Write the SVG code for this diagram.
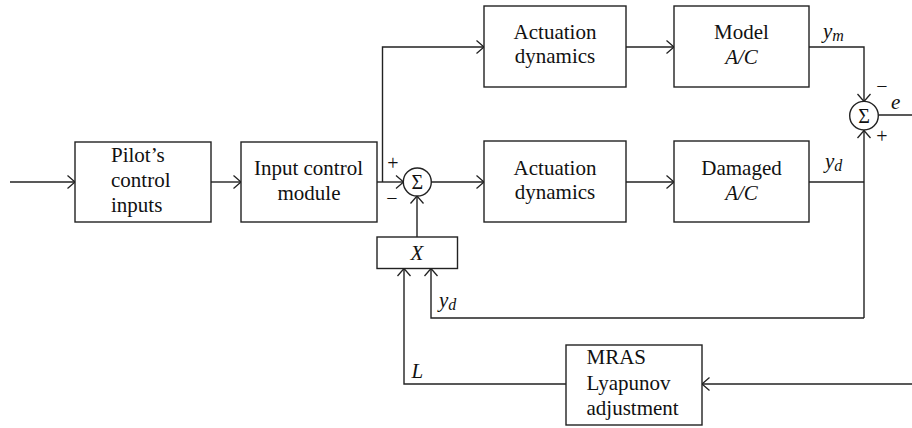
<svg xmlns="http://www.w3.org/2000/svg" width="912" height="428" viewBox="0 0 912 428">
<defs>
<marker id="arr" markerUnits="userSpaceOnUse" viewBox="0 0 10 16" refX="9" refY="8" markerWidth="10" markerHeight="16" orient="auto">
<path d="M1.5,1.5 L9,8 L1.5,14.5" fill="none" stroke="#222" stroke-width="1.3"/>
</marker>
<style>
.box{fill:#fff;stroke:#222;stroke-width:1.4}
.ln{fill:none;stroke:#222;stroke-width:1.4}
.ar{fill:none;stroke:#222;stroke-width:1.4;marker-end:url(#arr)}
text{font-size:21px;fill:#111}
.c{text-anchor:middle}
.i{font-style:italic}
.sub{font-size:16px;font-style:italic}
.sg{font-size:20px;text-anchor:middle}
.sign{font-size:20px;text-anchor:middle}
</style>
</defs>
<rect width="912" height="428" fill="#fff"/>
<g id="connectors">
<path class="ar" d="M10,182 H75"/>
<path class="ar" d="M211,182 H241"/>
<path class="ar" d="M377,182 H403.5"/>
<path class="ar" d="M382.5,182 V47 H484"/>
<path class="ar" d="M431,182 H484"/>
<path class="ar" d="M626,47 H674"/>
<path class="ar" d="M626,182 H674"/>
<path class="ar" d="M809,47 H864 V101.5"/>
<path class="ln" d="M809,182 H864"/>
<path class="ar" d="M864,318 V130.5"/>
<path class="ar" d="M864,318 H431 V268.5"/>
<path class="ln" d="M878.5,115 H912"/>
<path class="ar" d="M912,384 H702"/>
<path class="ar" d="M566,384 H404 V268.5"/>
<path class="ar" d="M417,237 V196"/>
</g>
<g font-family="'Liberation Serif', 'DejaVu Serif', serif">
<g id="pilot">
<rect class="box" x="75" y="142" width="136" height="80"/>
<text x="111" y="162">Pilot’s</text>
<text x="111" y="187">control</text>
<text x="111" y="212">inputs</text>
</g>
<g id="input-control">
<rect class="box" x="241" y="142" width="136" height="80"/>
<text class="c" x="308.5" y="175">Input control</text>
<text class="c" x="309" y="200">module</text>
</g>
<g id="sum1">
<circle class="box" cx="417.3" cy="182" r="14"/>
<text class="sg" x="417.3" y="189">Σ</text>
<text class="sign" x="393" y="170">+</text>
<text class="sign" x="392" y="205">−</text>
</g>
<g id="actuation-top">
<rect class="box" x="484" y="6" width="142" height="81"/>
<text class="c" x="555" y="39">Actuation</text>
<text class="c" x="555" y="63">dynamics</text>
</g>
<g id="model">
<rect class="box" x="674" y="6" width="135" height="81"/>
<text class="c" x="741.5" y="39">Model</text>
<text class="c i" x="741.5" y="64">A/C</text>
</g>
<g id="actuation-bottom">
<rect class="box" x="484" y="141" width="142" height="81"/>
<text class="c" x="555" y="175">Actuation</text>
<text class="c" x="555" y="199">dynamics</text>
</g>
<g id="damaged">
<rect class="box" x="674" y="141" width="135" height="81"/>
<text class="c" x="741.5" y="175">Damaged</text>
<text class="c i" x="741.5" y="199.5">A/C</text>
</g>
<g id="sum2">
<circle class="box" cx="864" cy="115.7" r="14.3"/>
<text class="sg" x="864" y="122.7">Σ</text>
<text class="sign" x="882" y="93">−</text>
<text class="sign" x="882" y="143">+</text>
<text class="i" x="891" y="108.5">e</text>
<text class="i" x="823" y="37.5">y<tspan class="sub" dy="3">m</tspan></text>
<text class="i" x="825" y="168">y<tspan class="sub" dy="3">d</tspan></text>
</g>
<g id="x-block">
<rect class="box" x="377" y="237" width="80.5" height="31.5"/>
<text class="c i" x="417" y="260">X</text>
<text class="i" x="439" y="307">y<tspan class="sub" dy="3">d</tspan></text>
<text class="i" x="411.5" y="378">L</text>
</g>
<g id="mras">
<rect class="box" x="566" y="345" width="136" height="80"/>
<text x="586.5" y="364">MRAS</text>
<text x="586.5" y="390">Lyapunov</text>
<text x="586.5" y="415">adjustment</text>
</g>
</g>
</svg>
